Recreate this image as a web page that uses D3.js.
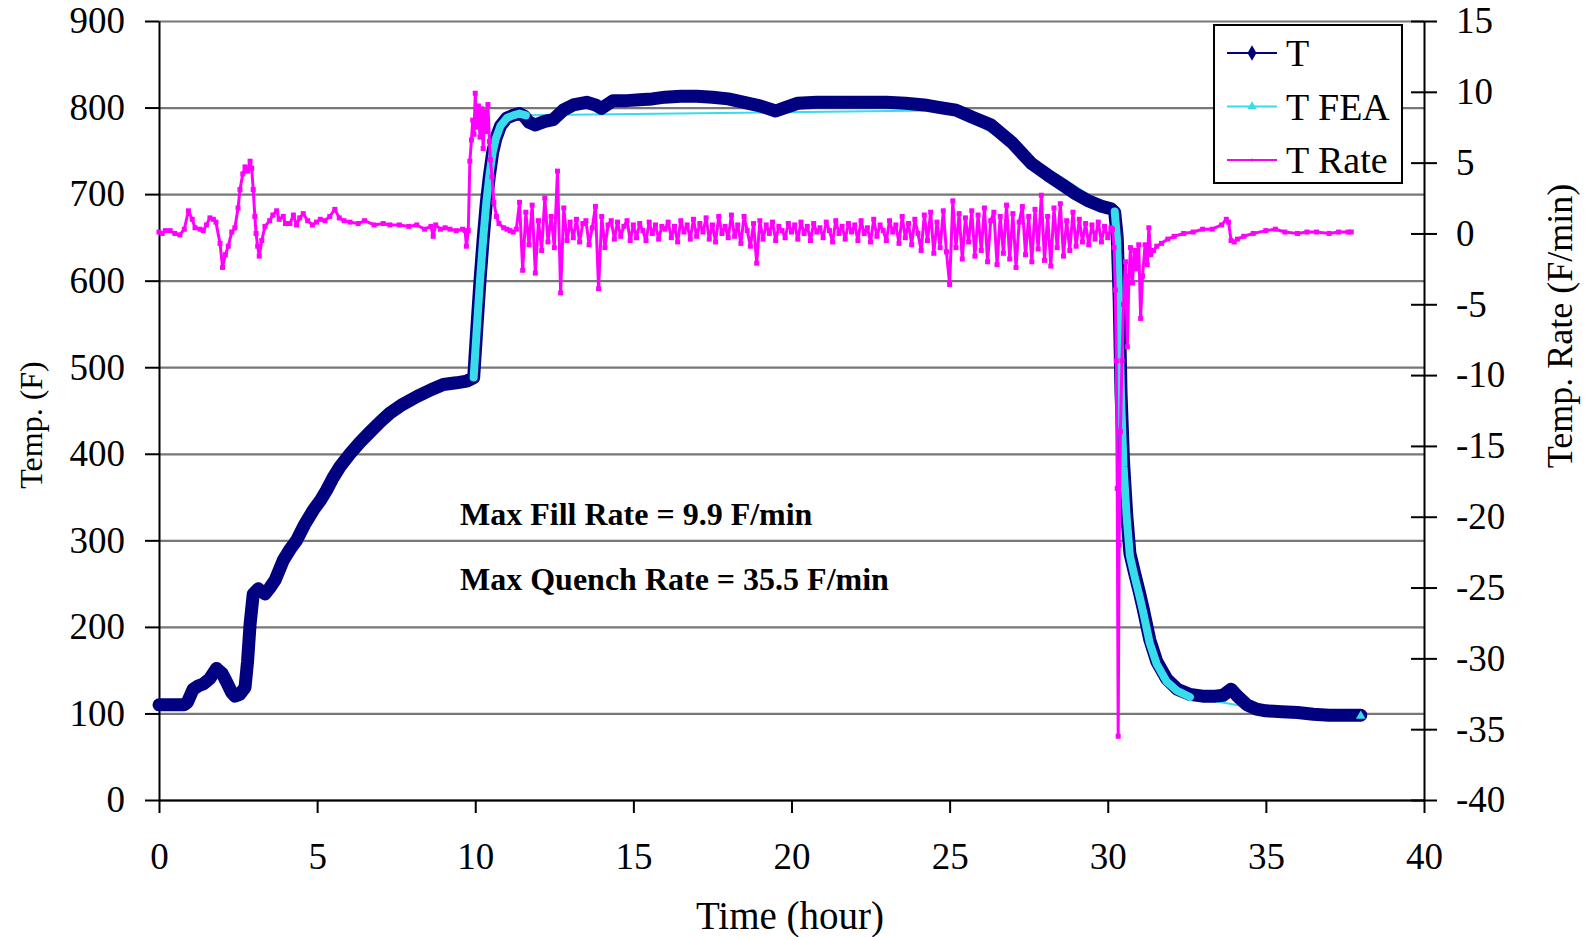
<!DOCTYPE html>
<html>
<head>
<meta charset="utf-8">
<script src="https://cdn.jsdelivr.net/npm/d3@7"></script>
<style>
	body { margin: 0; background: #fff; }
	svg text { font-family: "Liberation Serif", "Times New Roman", serif; fill: #000; }
</style>
</head>
<body>
<svg id="myChart" width="1587" height="937"></svg>
<script>
// axis ticks
const timeTicks = [0, 5, 10, 15, 20, 25, 30, 35, 40];
const tempTicks = [0, 100, 200, 300, 400, 500, 600, 700, 800, 900];
const rateTicks = [-40, -35, -30, -25, -20, -15, -10, -5, 0, 5, 10, 15];

// measured temperature T (hour, F)
const tTime = [
	0, 0.4, 0.8, 0.9, 1.08, 1.25, 1.4, 1.6, 1.82, 2.0,
	2.14, 2.3, 2.4, 2.55, 2.72, 2.8, 2.88, 2.98, 3.14, 3.35,
	3.5, 3.67, 3.93, 4.15, 4.35, 4.6, 4.88, 5.1, 5.3, 5.5,
	5.72, 6.04, 6.35, 6.67, 7.0, 7.3, 7.7, 8.15, 8.6, 8.99,
	9.4, 9.73, 9.95, 10.05, 10.15, 10.25, 10.35, 10.45, 10.55, 10.65,
	10.8, 11.0, 11.2, 11.4, 11.55, 11.7, 11.9, 12.2, 12.46, 12.78,
	13.1, 13.52, 13.8, 13.99, 14.36, 14.8, 15.2, 15.6, 16.0, 16.5,
	17.0, 17.5, 18.0, 18.5, 19.0, 19.5, 19.8, 20.2, 20.8, 21.5,
	22.2, 23.0, 23.6, 24.2, 24.7, 25.2, 25.7, 26.3, 26.96, 27.6,
	28.1, 28.6, 29.0, 29.4, 29.8, 30.1, 30.22, 30.3, 30.36, 30.42,
	30.5, 30.6, 30.7, 30.85, 31.0, 31.12, 31.33, 31.55, 31.86, 32.2,
	32.6, 33.0, 33.4, 33.65, 33.9, 34.1, 34.4, 34.7, 35.0, 35.5,
	36.0, 36.5, 37.0, 37.5, 38.0
];
const tTemp = [
	110, 110, 110, 113, 128, 132, 134, 140, 152, 146,
	136, 124, 120, 122, 130, 160, 203, 238, 244, 238,
	245, 254, 277, 290, 300, 318, 335, 346, 358, 372,
	385, 400, 413, 425, 437, 447, 457, 466, 474, 480,
	482, 484, 488, 545, 600, 648, 690, 722, 748, 764,
	779, 788, 791, 793, 790, 783, 780, 784, 786, 797,
	803, 806, 803, 799, 808, 808, 809, 810, 812, 813,
	813, 812, 810, 806, 802, 796, 800, 805, 806, 806,
	806, 806, 805, 803, 800, 797, 789, 780, 760, 735,
	722, 710, 700, 692, 686, 683, 679, 650, 580, 470,
	390, 330, 285, 262, 240, 221, 185, 160, 140, 128,
	122, 120, 120, 121, 128, 120, 110, 105, 103, 102,
	101, 99, 98, 98, 98
];

// FEA prediction
const feaTime = [
	9.95, 10.05, 10.15, 10.25, 10.35, 10.45, 10.55, 10.65, 10.8, 11.0,
	11.2, 11.4, 11.6, 25.2, 30.22, 30.3, 30.36, 30.42, 30.5, 30.6,
	30.7, 30.85, 31.0, 31.12, 31.33, 31.55, 31.86, 32.2, 32.6, 34.7,
	38.0
];
const feaTemp = [
	488, 545, 600, 648, 690, 722, 748, 764, 779, 788,
	791, 793, 791, 797, 680, 645, 572, 465, 385, 326,
	282, 258, 236, 217, 181, 157, 137, 126, 119, 106,
	97
];
// stretches where the FEA markers are packed into a thick band
const feaBands = [[9.9, 11.65], [30.2, 32.65]];

// temperature rate (F/min), right axis
const rateEarlyTime = [
	0, 0.1, 0.2, 0.35, 0.5, 0.66, 0.8, 0.93, 1.05, 1.14,
	1.3, 1.4, 1.5, 1.61, 1.72, 1.8, 1.93, 2.01, 2.1, 2.19,
	2.3, 2.4, 2.5, 2.56, 2.65, 2.72, 2.8, 2.88, 2.93, 2.98,
	3.03, 3.07, 3.12, 3.17, 3.25, 3.35, 3.5, 3.6, 3.72, 3.8,
	3.93, 4.0, 4.14, 4.25, 4.35, 4.45, 4.56, 4.7, 4.85, 4.98,
	5.1, 5.25, 5.4, 5.56, 5.7, 5.85, 6.04, 6.3, 6.5, 6.8,
	7.09, 7.3, 7.6, 7.9, 8.15, 8.4, 8.6, 8.67, 8.75, 8.9,
	9.05, 9.2, 9.4, 9.6, 9.68, 9.72, 9.78, 9.83, 9.88, 9.92,
	9.96, 10.0, 10.05, 10.1, 10.15, 10.2, 10.25, 10.3, 10.35, 10.4,
	10.45, 10.48, 10.53, 10.59, 10.67, 10.75, 10.9, 11.0
];
const rateEarly = [
	0.1, 0.0, 0.2, 0.2, 0.0, -0.1, 0.3, 1.6, 1.0, 0.4,
	0.3, 0.2, 0.6, 1.1, 1.0, 0.8, -0.7, -2.4, -1.5, -0.9,
	0.1, 0.4, 1.8, 3.1, 4.2, 4.7, 4.4, 5.1, 4.6, 3.1,
	1.2, 0.0, -0.9, -1.6, -0.5, 0.5, 0.9, 1.3, 1.6, 1.0,
	1.2, 0.7, 0.7, 1.3, 0.6, 1.1, 1.4, 0.9, 0.6, 0.8,
	1.0, 0.9, 1.2, 1.7, 1.1, 0.9, 0.8, 0.7, 0.9, 0.6,
	0.7, 0.6, 0.6, 0.5, 0.6, 0.3, 0.5, -0.2, 0.6, 0.3,
	0.4, 0.3, 0.2, 0.3, 0.2, -0.9, 0.2, 5.1, 6.6, 8.0,
	7.0, 9.9, 7.5, 9.0, 6.8, 8.8, 6.0, 8.6, 7.2, 9.1,
	6.5, 5.2, 4.0, 2.2, 1.2, 0.7, 0.4, 0.3
];
// hold period, sampled every 0.1 h from 11.1 h
const rateMidStart = 11.1;
const rateMidStep = 0.1;
const rateMid = [
	0.2, 0.1, 0.3, 2.2, -2.6, 1.5, -0.8, 2.0, -2.8,
	0.9, -1.2, 2.5, -0.6, 1.2, -1.0, 4.4, -4.2, 1.8, -0.5,
	0.8, -0.3, 1.0, -0.6, 0.7, 0.9, -0.8, 0.4, 1.9, -3.9,
	1.2, -1.0, 0.6, 0.9, -0.4, 0.8, -0.2, 0.5, 0.9, -0.5,
	0.6, -0.3, 0.7, 0.2, -0.5, 0.8, 0.0, 0.6, -0.4, 0.5,
	0.3, 0.8, -0.3, 0.5, -0.6, 0.9, 0.1, 0.6, -0.4, 1.0,
	-0.2, 0.7, 0.1, 1.1, -0.4, 0.6, -0.6, 1.2, 0.0, 0.5,
	-0.3, 1.3, -0.2, 0.6, -0.7, 1.2, 0.2, -0.9, 0.7, -2.1,
	0.9, -0.4, 0.6, 0.0, 0.8, -0.5, 0.5, 0.2, -0.3, 0.7,
	0.1, 0.6, -0.4, 0.8, 0.0, 0.5, -0.5, 0.7, 0.1, 0.4,
	-0.3, 0.8, 0.2, -0.6, 0.9, 0.0, 0.5, -0.4, 0.7, 0.1,
	0.6, -0.5, 0.9, 0.0, 0.4, -0.6, 1.0, -0.2, 0.6, 0.2,
	-0.5, 0.9, 0.1, 0.6, -0.7, 1.2, -0.3, 0.7, -0.8, 1.0,
	0.0, -1.2, 1.3, -0.5, 1.5, -1.4, 0.8, -1.0, 1.6, -1.3,
	-3.6, 2.3, -1.0, 1.4, -1.8, 1.1, -0.6, 1.6, -1.6, 1.3,
	-1.2, 1.8, -2.0, 0.9, 1.5, -2.2, 1.2, -1.4, 2.0, -1.8,
	1.4, -2.4, 0.8, 1.9, -1.5, 1.2, -2.0, 1.7, -1.1, 2.7,
	-1.9, 1.2, -2.3, 1.8, -1.0, 2.1, -1.6, 0.9, -1.2, 1.5,
	-0.9, 1.0, -0.6, 0.7, -0.8, 0.6, -0.4, 0.8, -0.6, 0.5,
	-0.3, 0.4
];
const rateLateTime = [
	30.15, 30.2, 30.24, 30.27, 30.3, 30.33, 30.36, 30.4, 30.45, 30.5,
	30.56, 30.62, 30.67, 30.72, 30.78, 30.85, 30.92, 30.98, 31.04, 31.1,
	31.18, 31.25, 31.3, 31.36, 31.45, 31.55, 31.7, 31.9, 32.1, 32.4,
	32.7, 33.0, 33.3, 33.6, 33.75, 33.82, 33.9, 34.0, 34.1, 34.3,
	34.6, 35.0, 35.3, 35.6, 36.0, 36.3, 36.6, 37.0, 37.3, 37.6,
	37.7
];
const rateLate = [
	0.3, -1.0, -4.0, -9.0, -18.0, -35.5, -22.0, -14.0, -9.0, -5.0,
	-2.0, -8.0, -3.0, -1.0, -3.5, -1.2, -2.5, -0.8, -6.0, -3.0,
	-0.8, -2.2, 0.4, -1.5, -1.2, -0.9, -0.7, -0.4, -0.2, 0.0,
	0.1, 0.3, 0.3, 0.6, 1.0, 0.8, -0.5, -0.6, -0.4, -0.2,
	0.0, 0.2, 0.3, 0.1, 0.0, 0.1, 0.1, 0.0, 0.1, 0.1,
	0.1
];

const legendNames = ['T', 'T FEA', 'T Rate'];
const notes = ['Max Fill Rate = 9.9 F/min', 'Max Quench Rate = 35.5 F/min'];

const colT = '#000080', colFea = '#38dcea', colRate = '#ff00ff';

function plotChart() {
	let svg = d3.select('#myChart');
	let left = 159, right = 1424, top = 21, bottom = 800;

	let x = d3.scaleLinear().domain([0, 40]).range([left, right]);
	let yT = d3.scaleLinear().domain([0, 900]).range([bottom, top]);
	let yR = d3.scaleLinear().domain([-40, 15]).range([bottom, top]);

	// gridlines
	svg.append('g')
		.attr('transform', 'translate(' + left + ',0)')
		.call(d3.axisLeft(yT).tickValues(tempTicks).tickSize(-(right - left)).tickFormat(''))
		.call(g => g.select('.domain').remove())
		.selectAll('line').attr('stroke', '#777').attr('stroke-width', 2.2);

	// left axis
	let ax = svg.append('g')
		.attr('transform', 'translate(' + left + ',0)')
		.call(d3.axisLeft(yT).tickValues(tempTicks).tickSize(14).tickSizeOuter(0).tickPadding(20));
	styleAxis(ax);

	// bottom axis
	let bx = svg.append('g')
		.attr('transform', 'translate(0,' + bottom + ')')
		.call(d3.axisBottom(x).tickValues(timeTicks).tickSize(13).tickSizeOuter(0).tickPadding(30));
	styleAxis(bx);

	// right axis, ticks cross the line, plain hyphen for minus
	let rx = svg.append('g')
		.attr('transform', 'translate(' + right + ',0)')
		.call(d3.axisRight(yR).tickValues(rateTicks).tickFormat(d => String(d))
			.tickSize(13).tickSizeOuter(0).tickPadding(19));
	styleAxis(rx);
	rx.selectAll('.tick line').attr('x1', -13).attr('x2', 13);

	let lineT = d3.line().x(d => x(d.t)).y(d => yT(d.v));
	let lineR = d3.line().x(d => x(d.t)).y(d => yR(d.v));

	let tData = tTime.map((t, i) => ({t: t, v: tTemp[i]}));
	let feaData = feaTime.map((t, i) => ({t: t, v: feaTemp[i]}));
	let rateData = rateEarlyTime.map((t, i) => ({t: t, v: rateEarly[i]}))
		.concat(rateMid.map((v, i) => ({t: rateMidStart + i * rateMidStep, v: v})))
		.concat(rateLateTime.map((t, i) => ({t: t, v: rateLate[i]})));

	// thin FEA line sits under T
	svg.append('path').datum(feaData)
		.attr('d', lineT).attr('fill', 'none')
		.attr('stroke', colFea).attr('stroke-width', 2);

	// T: dense diamonds read as a thick band
	svg.append('path').datum(tData)
		.attr('d', lineT).attr('fill', 'none')
		.attr('stroke', colT).attr('stroke-width', 13)
		.attr('stroke-linejoin', 'round').attr('stroke-linecap', 'round');

	// FEA where its markers pile up
	feaBands.forEach(function (b) {
		svg.append('path').datum(feaData.filter(d => d.t >= b[0] && d.t <= b[1]))
			.attr('d', lineT).attr('fill', 'none')
			.attr('stroke', colFea).attr('stroke-width', 8)
			.attr('stroke-linejoin', 'round').attr('stroke-linecap', 'round');
	});
	let last = feaData[feaData.length - 1];
	svg.append('path')
		.attr('d', d3.symbol(d3.symbolTriangle, 40)())
		.attr('transform', 'translate(' + x(last.t) + ',' + yT(last.v) + ')')
		.attr('fill', colFea);

	// rate: thin line with small square markers
	svg.append('path').datum(rateData)
		.attr('d', lineR).attr('fill', 'none')
		.attr('stroke', colRate).attr('stroke-width', 3)
		.attr('stroke-linejoin', 'round');
	svg.append('g').selectAll('rect').data(rateData).enter().append('rect')
		.attr('x', d => x(d.t) - 2.5).attr('y', d => yR(d.v) - 2.5)
		.attr('width', 5).attr('height', 5)
		.attr('fill', colRate);

	// notes
	svg.selectAll('.note').data(notes).enter().append('text')
		.attr('class', 'note')
		.attr('x', 460).attr('y', (d, i) => 525 + i * 65)
		.attr('font-size', 32).attr('font-weight', 'bold')
		.text(d => d);

	// axis titles
	svg.append('text').attr('x', 790).attr('y', 929)
		.attr('text-anchor', 'middle').attr('font-size', 39).text('Time (hour)');
	svg.append('text')
		.attr('transform', 'translate(31,425) rotate(-90)')
		.attr('text-anchor', 'middle').attr('dy', '0.35em')
		.attr('font-size', 32).text('Temp. (F)');
	svg.append('text')
		.attr('transform', 'translate(1559,326) rotate(-90)')
		.attr('text-anchor', 'middle').attr('dy', '0.35em')
		.attr('font-size', 36).text('Temp. Rate (F/min)');

	// legend
	let lg = svg.append('g');
	lg.append('rect').attr('x', 1214).attr('y', 25).attr('width', 188).attr('height', 158)
		.attr('fill', '#fff').attr('stroke', '#000').attr('stroke-width', 2);
	let cols = [colT, colFea, colRate];
	let items = lg.selectAll('.item').data(legendNames).enter().append('g')
		.attr('class', 'item')
		.attr('transform', (d, i) => 'translate(1227,' + (53 + i * 53.5) + ')');
	items.append('line').attr('x1', 0).attr('x2', 50)
		.attr('stroke', (d, i) => cols[i]).attr('stroke-width', 2);
	items.append('path')
		.attr('transform', 'translate(25,0)')
		.attr('d', (d, i) => d3.symbol([d3.symbolDiamond, d3.symbolTriangle, d3.symbolSquare][i], [70, 35, 6][i])())
		.attr('fill', (d, i) => cols[i]);
	items.append('text').attr('x', 59).attr('dy', '0.35em')
		.attr('font-size', 38).text(d => d);
}

function styleAxis(g) {
	g.attr('font-family', null).attr('font-size', 37);
	g.select('.domain').attr('stroke', '#000').attr('stroke-width', 2);
	g.selectAll('.tick line').attr('stroke', '#000').attr('stroke-width', 2);
	g.selectAll('.tick text').attr('fill', '#000');
}

document.addEventListener('DOMContentLoaded', plotChart, false);
</script>
</body>
</html>
